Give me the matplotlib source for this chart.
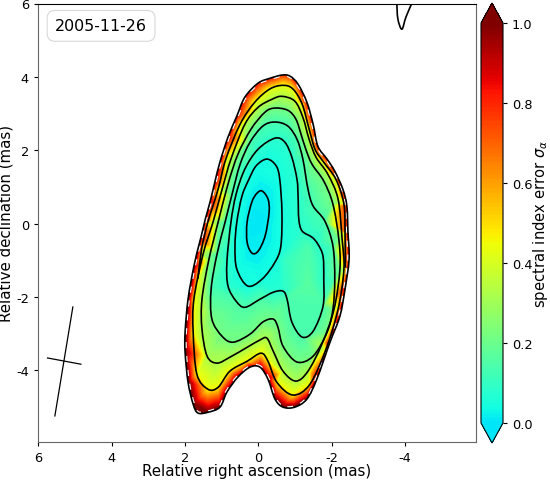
import matplotlib
matplotlib.use("Agg")
import matplotlib.pyplot as plt
import numpy as np
from matplotlib.cm import ScalarMappable
from matplotlib.colors import LinearSegmentedColormap, Normalize
from matplotlib.patches import PathPatch
from matplotlib.path import Path

# contours, in mas (ra, dec)
outer_ra = [1.56, 1.45, 1.32, 1.19, 1.05, 0.83, 0.59, 0.37, 0.01, -0.31, -0.64, -0.86, -1.08, -1.32, -1.49, -1.62, -1.87, -2.08, -2.30, -2.41, -2.44, -2.47, -2.36, -2.22, -1.95, -1.59, -1.32, -0.99, -0.67, -0.45, -0.26, -0.04, 0.23, 0.56, 0.86, 1.05, 1.38, 1.65, 1.78, 1.92, 2.00, 2.00, 1.92, 1.76, 1.63]
outer_dec = [-0.34, 0.12, 0.59, 1.13, 1.68, 2.36, 2.93, 3.45, 3.83, 3.96, 4.05, 4.02, 3.80, 3.31, 2.71, 2.11, 1.76, 1.43, 0.94, 0.48, -0.23, -0.97, -1.78, -2.52, -3.23, -4.24, -4.78, -5.00, -5.00, -4.78, -4.24, -3.91, -3.91, -4.18, -4.59, -5.00, -5.14, -5.16, -4.92, -4.32, -3.50, -2.96, -2.06, -1.16, -0.61]
outer_sigma = [0.9, 0.88, 0.86, 0.86, 0.86, 0.85, 0.82, 0.8, 0.8, 0.78, 0.75, 0.75, 0.78, 0.8, 0.8, 0.8, 0.78, 0.78, 0.8, 0.8, 0.8, 0.82, 0.85, 0.88, 0.9, 0.93, 0.97, 1.0, 1.0, 0.98, 0.95, 0.92, 0.92, 0.92, 0.95, 0.98, 1.0, 1.0, 1.0, 1.0, 1.0, 1.0, 0.98, 0.95, 0.92]

a_ra = [1.65, 1.55, 1.38, 1.10, 0.89, 0.50, 0.10, -0.31, -0.67, -0.94, -1.19, -1.38, -1.54, -1.76, -2.11, -2.33, -2.36, -2.37]
a_dec = [-1.50, -0.69, 0.04, 0.94, 1.76, 2.71, 3.31, 3.67, 3.77, 3.67, 3.26, 2.58, 2.03, 1.70, 1.21, 0.53, -0.29, -1.20]

b_ra = [1.78, 1.76, 1.51, 1.24, 0.99, 0.75, 0.37, 0.01, -0.37, -0.64, -0.99, -1.21, -1.38, -1.57, -1.89, -2.17, -2.28, -2.33, -2.17, -1.84, -1.40, -0.94, -0.50, -0.26, -0.07, 0.31, 0.78, 1.10, 1.38, 1.68]
b_dec = [-2.96, -2.06, -0.83, 0.04, 0.94, 1.76, 2.71, 3.17, 3.39, 3.47, 3.34, 2.90, 2.30, 1.81, 1.35, 0.67, -0.42, -1.24, -2.33, -3.42, -4.38, -4.67, -4.32, -3.75, -3.53, -3.75, -4.02, -4.46, -4.51, -4.10]

c_ra = [1.54, 1.54, 1.35, 1.10, 0.83, 0.56, 0.20, -0.18, -0.45, -0.80, -1.02, -1.16, -1.29, -1.46, -1.78, -2.03, -2.19, -2.22, -2.06, -1.73, -1.35, -1.02, -0.67, -0.40, -0.23, -0.04, 0.31, 0.78, 1.13, 1.40]
c_dec = [-2.87, -2.06, -0.97, 0.04, 1.08, 1.89, 2.58, 3.04, 3.15, 3.09, 2.85, 2.44, 2.03, 1.62, 1.16, 0.53, -0.42, -1.24, -2.33, -3.28, -4.02, -4.29, -4.02, -3.47, -3.12, -3.17, -3.37, -3.64, -3.80, -3.61]

d_ra = [1.27, 1.29, 1.13, 0.91, 0.72, 0.50, 0.23, -0.12, -0.45, -0.80, -1.05, -1.21, -1.35, -1.49, -1.81, -2.03, -2.08, -2.03, -1.87, -1.49, -1.05, -0.67, -0.53, -0.40, -0.12, 0.23, 0.69, 0.99]
d_dec = [-2.60, -1.78, -0.83, 0.04, 0.80, 1.62, 2.22, 2.66, 2.77, 2.66, 2.30, 1.76, 0.94, 0.48, 0.07, -0.61, -1.51, -2.33, -2.96, -3.61, -3.77, -3.34, -2.82, -2.60, -2.68, -3.01, -3.23, -3.07]

e_ra = [0.83, 0.86, 0.75, 0.61, 0.37, 0.01, -0.45, -0.72, -0.91, -1.05, -1.08, -1.10, -1.19, -1.46, -1.62, -1.76, -1.78, -1.76, -1.49, -1.19, -0.91, -0.78, -0.67, -0.40, -0.04, 0.37, 0.61]
e_dec = [-1.70, -1.05, 0.04, 0.80, 1.49, 2.03, 2.33, 2.22, 1.81, 1.21, 0.75, 0.12, -0.20, -0.37, -0.56, -0.89, -1.51, -2.25, -2.93, -3.09, -2.68, -2.06, -1.84, -1.87, -2.06, -2.28, -2.11]

f_ra = [0.59, 0.64, 0.59, 0.45, 0.26, 0.06, -0.23, -0.48, -0.58, -0.64, -0.61, -0.45, -0.10, 0.29]
f_dec = [-1.24, -0.61, 0.04, 0.75, 1.21, 1.58, 1.76, 1.58, 1.21, 0.31, -0.61, -1.05, -1.51, -1.70]

g_ra = [-0.10, -0.26, -0.29, -0.18, 0.01, 0.18, 0.31, 0.31, 0.18, 0.04]
g_dec = [0.89, 0.67, 0.31, -0.34, -0.75, -0.80, -0.50, 0.04, 0.59, 0.83]

# error: upper part, lower part
a_sigma = (0.42, 0.42)
b_sigma = (0.32, 0.44)
c_sigma = (0.21, 0.31)
d_sigma = (0.13, 0.21)
e_sigma = (0.08, 0.14)
f_sigma = (0.04, 0.05)
g_sigma = (0.01, 0.01)

# points inside the rings, where the colour is not set by a contour
inner_ra = [0.05, -1.35, -1.35, -0.75]
inner_dec = [0.05, -1.60, -0.70, -1.00]
inner_sigma = [0.0, 0.16, 0.14, 0.10]

# piece of another contour at the top edge
stray_ra = [-3.77, -3.80, -3.91, -4.02, -4.20]
stray_dec = [6.05, 5.58, 5.30, 5.63, 6.05]

beam_major_ra = [5.06, 5.55]
beam_major_dec = [-2.27, -5.24]
beam_minor_ra = [5.75, 4.84]
beam_minor_dec = [-3.66, -3.83]

epoch = "2005-11-26"
xticks = [6, 4, 2, 0, -2, -4]
yticks = [-4, -2, 0, 2, 4, 6]
cticks = [0.0, 0.2, 0.4, 0.6, 0.8, 1.0]


def smooth_path(ra, dec, closed=True):
	# catmull-rom through the read points, as bezier segments
	pts = np.column_stack([ra, dec])
	n = len(pts)
	verts = [pts[0]]
	codes = [Path.MOVETO]
	for i in range(n if closed else n - 1):
		if closed:
			p0, p1, p2, p3 = pts[(i - 1) % n], pts[i], pts[(i + 1) % n], pts[(i + 2) % n]
		else:
			p0, p1, p2, p3 = pts[max(i - 1, 0)], pts[i], pts[i + 1], pts[min(i + 2, n - 1)]
		verts += [p1 + (p2 - p0) / 6, p2 - (p3 - p1) / 6, p2]
		codes += [Path.CURVE4] * 3
	return Path(verts, codes)


plt.rcParams["axes.unicode_minus"] = False
jet = plt.get_cmap("jet")
cmap = LinearSegmentedColormap.from_list("jet_upper", jet(np.linspace(0.35, 1.0, 256)))
norm = Normalize(0, 1)

fig = plt.figure(figsize=(5.5, 4.81), dpi=100)
ax = fig.add_axes([38 / 550, 1 - 443 / 481, 438 / 550, 438.5 / 481])

rings = [
	(a_ra, a_dec, a_sigma, False), (b_ra, b_dec, b_sigma, True), (c_ra, c_dec, c_sigma, True),
	(d_ra, d_dec, d_sigma, True), (e_ra, e_dec, e_sigma, True), (f_ra, f_dec, f_sigma, True),
	(g_ra, g_dec, g_sigma, True),
]
all_ra = list(outer_ra) + list(inner_ra)
all_dec = list(outer_dec) + list(inner_dec)
all_sigma = list(outer_sigma) + list(inner_sigma)
for ra, dec, sig, closed in rings:
	all_ra += ra
	all_dec += dec
	all_sigma += [sig[1] if d < -2 else sig[0] for d in dec]

# many levels, so the colour follows the value and not an rgb blend
levels = np.linspace(0, 1, 129)
fill = ax.tricontourf(all_ra, all_dec, all_sigma, levels=levels, cmap=cmap, norm=norm, extend="both", antialiased=False)
outer_path = smooth_path(outer_ra, outer_dec)
clip = PathPatch(outer_path, transform=ax.transData, fc="none", ec="none")
ax.add_patch(clip)
fill.set_clip_path(clip)

# outline: white dashes showing at the inner side of the black contour
ax.add_patch(PathPatch(outer_path, fc="none", ec="white", lw=2.8, ls=(0, (1.6, 2)), zorder=3))
ax.add_patch(PathPatch(outer_path, fc="none", ec="black", lw=1.2, zorder=4))
for ra, dec, sig, closed in rings:
	ax.add_patch(PathPatch(smooth_path(ra, dec, closed=closed), fc="none", ec="black", lw=1.2, zorder=4))
ax.add_patch(PathPatch(smooth_path(stray_ra, stray_dec, closed=False), fc="none", ec="black", lw=1.2, zorder=4))

ax.plot(beam_major_ra, beam_major_dec, color="black", lw=0.9)
ax.plot(beam_minor_ra, beam_minor_dec, color="black", lw=0.9)

ax.set_xlim(6.01, -5.93)
ax.set_ylim(-5.95, 5.98)
ax.set_xticks(xticks)
ax.set_yticks(yticks)
ax.tick_params(labelsize=9.3, length=3)
for side in ["left", "right", "bottom"]:
	ax.spines[side].set_color("0.4")
ax.set_xlabel("Relative right ascension (mas)", fontsize=10.8)
ax.set_ylabel("Relative declination (mas)", fontsize=10.8)
ax.xaxis.set_label_coords(0.5, -0.047, transform=ax.transAxes)
ax.yaxis.set_label_coords(-0.056, 0.5, transform=ax.transAxes)
ax.text(0.039, 0.949, epoch, transform=ax.transAxes, fontsize=11.4, va="center", ha="left",
	bbox=dict(boxstyle="round,pad=0.5", fc="white", ec="0.85", lw=0.8))

cax = fig.add_axes([481 / 550, 1 - 444 / 481, 22 / 550, 440 / 481])
cb = fig.colorbar(ScalarMappable(norm=norm, cmap=cmap), cax=cax, extend="both", ticks=cticks)
cb.ax.tick_params(labelsize=9.3, length=3)
cb.set_label(r"spectral index error $\sigma_\alpha$", fontsize=10.6, labelpad=-1)

fig.savefig("out.png", dpi=100)
